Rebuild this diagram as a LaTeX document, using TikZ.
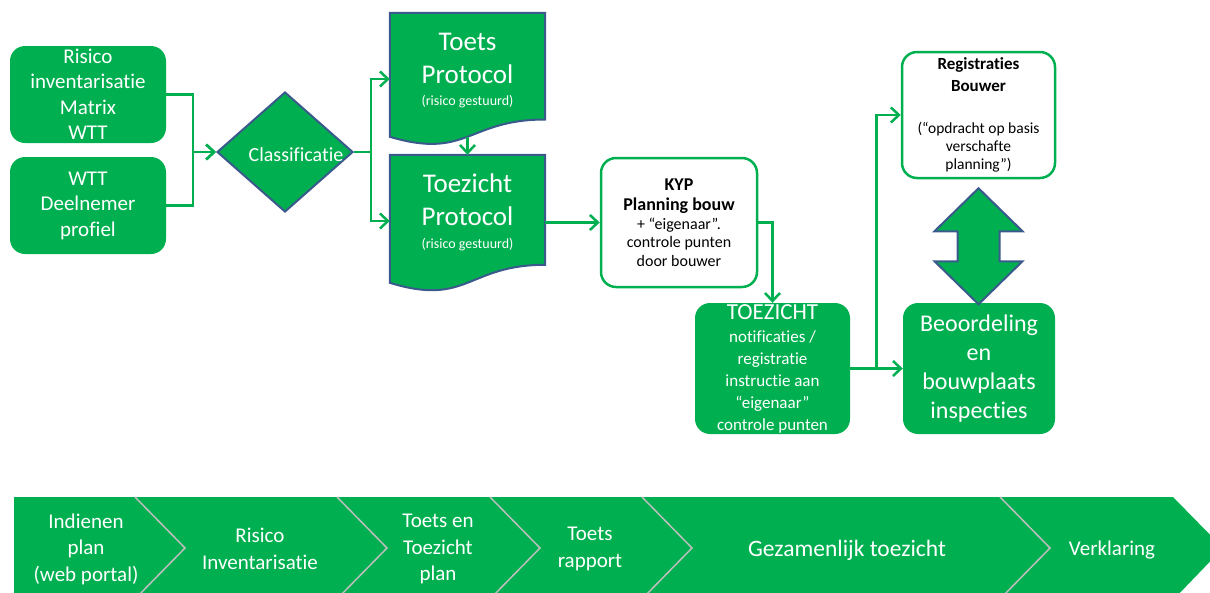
\documentclass[tikz,border=0pt]{standalone}
\usepackage{fontspec}
\setmainfont{Carlito}[Ligatures=NoCommon]
\usetikzlibrary{arrows.meta,positioning,calc,shapes.geometric,backgrounds}

\definecolor{kgreen}{HTML}{00B050}
\definecolor{kblue}{HTML}{3B5A8C}
\definecolor{kgrey}{RGB}{190,190,190}

\newcommand{\fs}[2]{\fontsize{#1}{#2}\selectfont}

\tikzset{
  greenbox/.style={rounded corners=15pt, fill=kgreen, text=white, align=center, inner sep=0pt},
  whitebox/.style={rounded corners=15pt, draw=kgreen, line width=2.5pt, fill=white, align=center, inner sep=0pt},
  docbox/.style={minimum width=155pt, text=white, align=center, inner sep=0pt},
  docfill/.style={fill=kgreen, draw=kblue, line width=2pt},
  line/.style={draw=kgreen, line width=2.5pt},
  link/.style={line, -{Straight Barb[length=8pt,width=15pt]}},
  sep/.style={draw=kgrey, line width=1.5pt},
  bandtext/.style={text=white, align=center, font=\fs{21}{26.5}},
}

\begin{document}
\begin{tikzpicture}[x=1pt, y=-1pt]
        \useasboundingbox (0,0) rectangle (1210,592);

        % Input boxes
        \node[greenbox, minimum width=156pt, minimum height=97pt, font=\fs{21}{25.5}] (risico) at (88,94.5) {Risico\\inventarisatie\\Matrix\\WTT};
        \node[greenbox, minimum width=156pt, minimum height=97pt, font=\fs{21}{25.5}] (wtt) at (88,205.5) {WTT\\Deelnemer\\profiel};

        % Classificatie
        \node[diamond, fill=kgreen, draw=kblue, line width=2pt, minimum width=136pt, minimum height=120pt, inner sep=0pt] (klas) at (285,152) {};
        \node[text=white, font=\fs{20}{24}] (klastekst) at ([xshift=11pt,yshift=-3pt]klas.center) {Classificatie};

        \draw[link] (risico.east) -- ++(27,0) |- (klas.west);
        \draw[link] (wtt.east) -- ++(27,0) |- (klas.west);

        % Protocols
        \node[docbox, minimum height=115pt, font=\fs{27}{33}] (toets) at (467.5,70.5) {Toets\\Protocol\\[-11pt]{\fs{14}{17}(risico gestuurd)}};
        \node[docbox, minimum height=114pt, font=\fs{27}{33}] (toezicht) at (467.5,212) {Toezicht\\Protocol\\[-10pt]{\fs{14}{17}(risico gestuurd)}};
        \begin{scope}[on background layer]
            \filldraw[docfill] (toets.north west) -- (toets.north east) -- ($(toets.north east)+(0,106.7)$)
                .. controls ($(toets.north)+(0,106.7)$) and ($(toets.north)+(0,147)$) .. ($(toets.north west)+(0,124)$) -- cycle;
            \filldraw[docfill] (toezicht.north west) -- (toezicht.north east) -- ($(toezicht.north east)+(0,110)$)
                .. controls ($(toezicht.north)+(0,110)$) and ($(toezicht.north)+(0,152)$) .. ($(toezicht.north west)+(0,128)$) -- cycle;
        \end{scope}

        \draw[line] (klas.east) -- ++(17,0) coordinate (split);
        \draw[link] (split) |- ([yshift=-8.5pt]toets.west);
        \draw[link] (split) |- ([yshift=-9pt]toezicht.west);
        \draw[link] ($(toets.north)+(0,124)$) -- (toezicht.north);

        % KYP
        \node[whitebox, minimum width=156pt, minimum height=129pt, font=\fs{16}{18.5}] (kyp) at (679,222.5)
            {{\bfseries\fs{18}{21}KYP}\\[2pt]{\bfseries\fs{18}{21}Planning bouw}\\+ “eigenaar”.\\controle punten\\door bouwer};
        \draw[link] (kyp.west -| toezicht.east) -- (kyp.west);

        % Toezicht
        \node[greenbox, minimum width=155pt, minimum height=131pt, font=\fs{17}{22}] (toez) at (772.5,368.5)
            {{\fs{23}{25}TOEZICHT}\\[1pt]notificaties /\\registratie\\instructie aan\\“eigenaar”\\controle punten};
        \draw[link] (kyp.east) -| (toez.north);

        % Beoordeling en registraties
        \node[greenbox, minimum width=152pt, minimum height=131pt, font=\fs{24}{29}] (beo) at (979,368.5) {Beoordeling\\en\\bouwplaats\\inspecties};
        \node[whitebox, minimum width=153pt, minimum height=126pt, font=\fs{15.5}{18}] (reg) at (978.5,115)
            {{\bfseries\fs{17}{22}Registraties}\\[4pt]{\bfseries\fs{17}{22}Bouwer}\\[24pt](“opdracht op basis\\verschafte\\planning”)};

        \draw[link] (toez.east) -- (beo.west);
        \path (toez.east) -- (beo.west) coordinate[pos=0.5] (fork);
        \draw[link] (fork) |- (reg.west);

        % Double arrow
        \filldraw[docfill] ($(reg.south)+(0,9)$) -- ++(44,43) -- ++(-23,0) -- ++(0,30) -- ++(23,0) -- ++(-44,43)
            -- ++(-44,-43) -- ++(23,0) -- ++(0,-30) -- ++(-23,0) -- cycle;

        % Process band
        \begin{scope}
            \clip (0,0) rectangle (1210,592);
            \fill[kgreen] (14,497) -- (1173,497) -- (1223,548) -- (1173,600) -- (14,600) -- cycle;
            \foreach \x in {135,337,490,642,1000} {
                \draw[sep] (\x,497) -- ++(50,51) -- ++(-50,51);
            }
        \end{scope}
        \node[bandtext] (stap1) at (86,549) {Indienen\\plan\\(web portal)};
        \node[bandtext] (stap2) at (260,549) {Risico\\Inventarisatie};
        \node[bandtext] (stap3) at (438,549) {Toets en\\Toezicht\\plan};
        \node[bandtext] (stap4) at (590,549) {Toets\\rapport};
        \node[bandtext, font=\fs{23.5}{28}] (stap5) at (847,550) {Gezamenlijk toezicht};
        \node[bandtext] (stap6) at (1112,550) {Verklaring};

\end{tikzpicture}
\end{document}
